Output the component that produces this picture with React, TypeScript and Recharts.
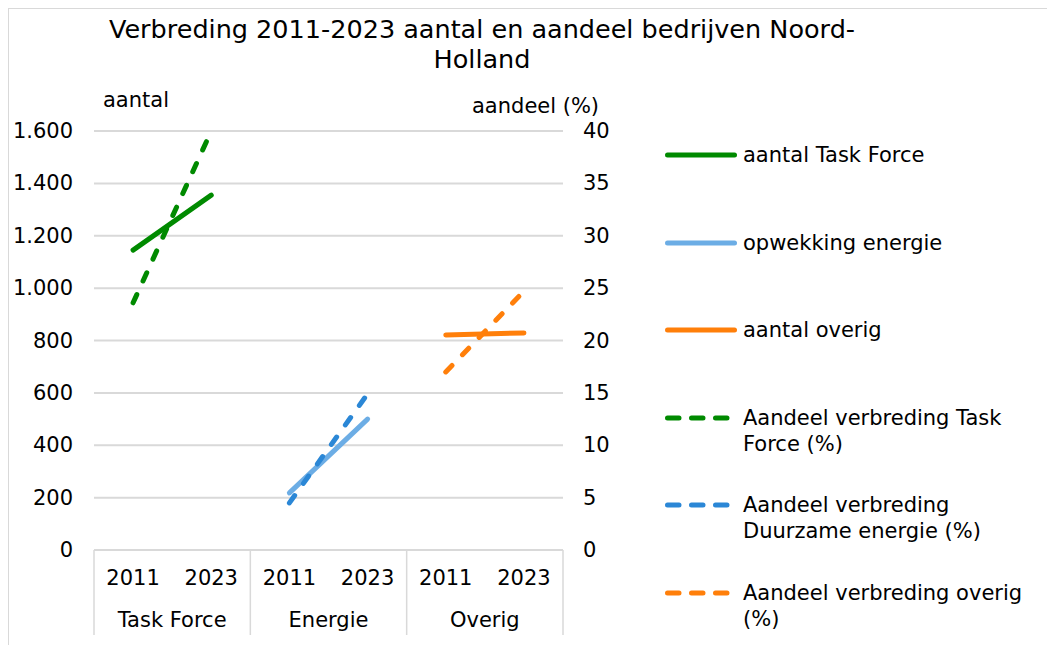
import React from 'react';
import { LineChart, Line, XAxis, YAxis, CartesianGrid, Legend } from 'recharts';

const FONT = "'DejaVu Sans', Verdana, sans-serif";

// ---- data ----
const categories = ['Task Force 2011', 'Task Force 2023', 'Energie 2011', 'Energie 2023', 'Overig 2011', 'Overig 2023'];
const years = ['2011', '2023', '2011', '2023', '2011', '2023'];
const groups = ['Task Force', 'Task Force', 'Energie', 'Energie', 'Overig', 'Overig'];

const aantalTaskForce = [1145, 1355, null, null, null, null];
const opwekkingEnergie = [null, null, 218, 500, null, null];
const aantalOverig = [null, null, null, null, 821, 829];
const aandeelTaskForce = [23.6, 40, null, null, null, null];
const aandeelDuurzaam = [null, null, 4.5, 14.9, null, null];
const aandeelOverig = [null, null, null, null, 17.0, 24.7];

const leftTicks = [0, 200, 400, 600, 800, 1000, 1200, 1400, 1600];
const rightTicks = [0, 5, 10, 15, 20, 25, 30, 35, 40];

const titleLines = ['Verbreding 2011-2023 aantal en aandeel bedrijven Noord-', 'Holland'];
const leftAxisTitle = 'aantal';
const rightAxisTitle = 'aandeel (%)';

const data = categories.map((cat, i) => ({
  cat,
  year: years[i],
  group: groups[i],
  aTF: aantalTaskForce[i],
  aEn: opwekkingEnergie[i],
  aOv: aantalOverig[i],
  pTF: aandeelTaskForce[i],
  pEn: aandeelDuurzaam[i],
  pOv: aandeelOverig[i],
}));

const series = [
  { key: 'aTF', name: 'aantal Task Force', color: '#008A00', axis: 'left', dashed: false },
  { key: 'aEn', name: 'opwekking energie', color: '#6CADE5', axis: 'left', dashed: false },
  { key: 'aOv', name: 'aantal overig', color: '#FF7F0A', axis: 'left', dashed: false },
  { key: 'pTF', name: 'Aandeel verbreding Task Force (%)', color: '#008A00', axis: 'right', dashed: true },
  { key: 'pEn', name: 'Aandeel verbreding Duurzame energie (%)', color: '#2B87D6', axis: 'right', dashed: true },
  { key: 'pOv', name: 'Aandeel verbreding overig (%)', color: '#FF7F0A', axis: 'right', dashed: true },
];

const fmtThousands = (v: number) => String(v).replace(/\B(?=(\d{3})+(?!\d))/g, '.');

const XTick = (props: any) => {
  const { x, y, payload } = props;
  const i = payload.index;
  const half = payload.offset || 39.08;
  const sepLen = 85;
  return (
    <g>
      <text x={x} y={y + 28} textAnchor="middle" dominantBaseline="central" fontFamily={FONT} fontSize={21} fill="#000">
        {years[i]}
      </text>
      {i % 2 === 0 && (
        <>
          <text x={x + half} y={y + 70} textAnchor="middle" dominantBaseline="central" fontFamily={FONT} fontSize={21} fill="#000">
            {groups[i]}
          </text>
          <line x1={x - half} x2={x - half} y1={y} y2={y + sepLen} stroke="#d9d9d9" strokeWidth={1.5} />
        </>
      )}
      {i === categories.length - 1 && (
        <line x1={x + half} x2={x + half} y1={y} y2={y + sepLen} stroke="#d9d9d9" strokeWidth={1.5} />
      )}
    </g>
  );
};

const LeftTick = (props: any) => {
  const { x, y, payload } = props;
  return (
    <text x={x - 21} y={y} textAnchor="end" dominantBaseline="central" fontFamily={FONT} fontSize={21} fill="#000">
      {fmtThousands(payload.value)}
    </text>
  );
};

const RightTick = (props: any) => {
  const { x, y, payload } = props;
  return (
    <text x={x + 20} y={y} textAnchor="start" dominantBaseline="central" fontFamily={FONT} fontSize={21} fill="#000">
      {payload.value}
    </text>
  );
};

const renderLegend = () => (
  <div style={{ fontFamily: FONT, fontSize: 21, color: '#000' }}>
    {series.map((s) => (
      <div key={s.key} style={{ height: 87.6, display: 'flex', alignItems: 'flex-start' }}>
        <svg width={72} height={26} style={{ flex: 'none', marginRight: 6 }}>
          <line
            x1={2.5}
            x2={69.5}
            y1={13}
            y2={13}
            stroke={s.color}
            strokeWidth={5}
            strokeLinecap="round"
            strokeDasharray={s.dashed ? '11.5 12.5' : undefined}
          />
        </svg>
        <div style={{ width: 300, lineHeight: '26px' }}>{s.name}</div>
      </div>
    ))}
  </div>
);

export default function App() {
  return (
    <div
      style={{
        position: 'relative',
        width: 1046,
        height: 636,
        borderTop: '1px solid #d9d9d9',
        borderLeft: '1px solid #d9d9d9',
        fontFamily: FONT,
        background: '#fff',
      }}
    >
      <LineChart width={1046} height={636} data={data} margin={{ top: 122, right: 432, bottom: 0, left: 25 }}>
        <CartesianGrid yAxisId="left" vertical={false} stroke="#d9d9d9" strokeWidth={2} />
        <XAxis
          dataKey="cat"
          scale="band"
          height={95}
          interval={0}
          axisLine={{ stroke: '#d9d9d9', strokeWidth: 1.5 }}
          tickLine={false}
          tickSize={0}
          tickMargin={0}
          tick={<XTick />}
        />
        <YAxis
          yAxisId="left"
          width={60}
          domain={[0, 1600]}
          ticks={leftTicks}
          interval={0}
          axisLine={false}
          tickLine={false}
          tickSize={0}
          tickMargin={0}
          tick={<LeftTick />}
          label={{
            content: (p: any) => (
              <text x={p.viewBox.x + 69} y={p.viewBox.y - 24} fontFamily={FONT} fontSize={21} fill="#000">
                {leftAxisTitle}
              </text>
            ),
          }}
        />
        <YAxis
          yAxisId="right"
          orientation="right"
          width={60}
          domain={[0, 40]}
          ticks={rightTicks}
          interval={0}
          axisLine={false}
          tickLine={false}
          tickSize={0}
          tickMargin={0}
          tick={<RightTick />}
          label={{
            content: (p: any) => (
              <text x={p.viewBox.x - 91} y={p.viewBox.y - 18} fontFamily={FONT} fontSize={21} fill="#000">
                {rightAxisTitle}
              </text>
            ),
          }}
        />
        {series.map((s) => (
          <Line
            key={s.key}
            yAxisId={s.axis}
            type="linear"
            dataKey={s.key}
            name={s.name}
            stroke={s.color}
            strokeWidth={5}
            strokeLinecap="round"
            strokeDasharray={s.dashed ? '9 15' : undefined}
            dot={false}
            activeDot={false}
            connectNulls={false}
            isAnimationActive={false}
          />
        ))}
        <Legend
          layout="vertical"
          align="center"
          verticalAlign="middle"
          wrapperStyle={{ left: 656, top: 133, width: 390, height: 'auto' }}
          content={renderLegend}
        />
      </LineChart>
      <div
        style={{
          position: 'absolute',
          top: 5,
          left: 73,
          width: 800,
          textAlign: 'center',
          fontSize: 25.5,
          lineHeight: '30px',
          whiteSpace: 'nowrap',
          color: '#000',
        }}
      >
        {titleLines.map((t) => (
          <div key={t}>{t}</div>
        ))}
      </div>
    </div>
  );
}
